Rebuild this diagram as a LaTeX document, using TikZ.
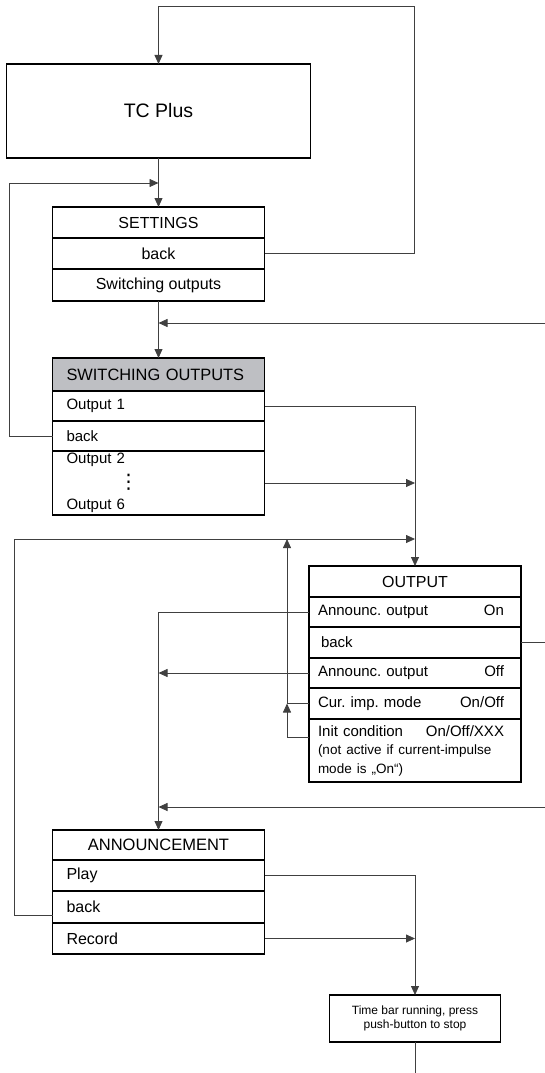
\documentclass[tikz,border=0pt]{standalone}
\usepackage{fontspec}
\setmainfont{Liberation Sans}
\newfontfamily\symfont{DejaVu Sans}
\usetikzlibrary{arrows.meta,positioning}

\frenchspacing
\definecolor{titlegray}{RGB}{190,191,195}
\newcommand{\lr}[2]{\makebox[186pt]{#1\hfill #2}}
\newcommand{\vdotsbar}{\raisebox{-2pt}{\smash{\symfont\fontsize{20}{20}\selectfont ⋮}}}

\begin{document}
\begin{tikzpicture}[x=1pt, y=-1pt,
  menu/.style={rectangle, draw, line width=1.3pt, minimum width=212pt, minimum height=31pt, inner sep=0pt, outer sep=0pt, align=center, font=\fontsize{16}{19}\selectfont},
  menuleft/.style={menu, text width=184pt, align=left, font=\fontsize{15}{18}\selectfont},
  outrow/.style={menu, text width=194pt, align=left, font=\fontsize{15}{18.5}\selectfont},
  link/.style={draw=black!75, line width=0.8pt},
  arr/.style={link, -{Triangle[length=9pt, width=8pt]}},
]
  \useasboundingbox (0,0) rectangle (545,1073);

  \node[menu, minimum width=304pt, minimum height=94pt, font=\fontsize{19.5}{23}\selectfont] (tc) at (158.5,111) {TC Plus};

  \node[menu] (set1) at (158.5,222.5) {SETTINGS};
  \node[menu, below=0pt of set1] (set2) {back};
  \node[menu, minimum height=32pt, below=0pt of set2] (set3) {Switching outputs};

  \node[menuleft, fill=titlegray, minimum height=33pt, font=\fontsize{16.4}{19}\selectfont] (sw1) at (158.5,374.5) {SWITCHING OUTPUTS};
  \node[menuleft, minimum height=30pt, below=0pt of sw1] (sw2) {Output 1};
  \node[menuleft, minimum height=30pt, below=0pt of sw2] (sw3) {back};
  \node[menuleft, minimum height=64pt, font=\fontsize{15}{23}\selectfont, below=0pt of sw3] (sw4) {Output 2\\\hspace*{52pt}\vdotsbar\\Output 6};

  \node[menu] (out1) at (415,581.5) {OUTPUT};
  \node[outrow, minimum height=30pt, below=0pt of out1] (out2) {\lr{Announc. output}{On}};
  \node[outrow, below=0pt of out2] (out3) {\hspace*{3pt}back};
  \node[outrow, minimum height=30pt, below=0pt of out3] (out4) {\lr{Announc. output}{Off}};
  \node[outrow, below=0pt of out4] (out5) {\lr{Cur. imp. mode}{On/Off}};
  \node[outrow, minimum height=63pt, below=0pt of out5] (out6) {\lr{Init condition}{On/Off/XXX}\\{\fontsize{13.5}{18.5}\selectfont (not active if current-impulse\\mode is „On“)}};

  \node[menu, minimum height=30pt, font=\fontsize{16.5}{19}\selectfont] (ann1) at (158.5,845) {ANNOUNCEMENT};
  \node[menuleft, font=\fontsize{16}{19}\selectfont, below=0pt of ann1] (ann2) {Play};
  \node[menuleft, minimum height=32pt, font=\fontsize{16}{19}\selectfont, below=0pt of ann2] (ann3) {back};
  \node[menuleft, font=\fontsize{16}{19}\selectfont, below=0pt of ann3] (ann4) {Record};

  \node[menu, minimum width=171pt, minimum height=47pt, font=\fontsize{12}{14.5}\selectfont] (timebar) at (415,1018.5) {Time bar running, press\\push-button to stop};

  \coordinate (loopT) at (414,6);
  \coordinate (loopL) at (9,183);
  \coordinate (loopB) at (14,539);
  \coordinate (curUp) at (287,539);
  \coordinate (inSet) at (545,323);
  \coordinate (inAnn) at (545,807);
  \coordinate (outBack) at (545,642);
  \coordinate (tbEnd) at (415,1073);

  \draw[arr] (set2.east) -| (loopT) -| (tc.north);
  \draw[arr] (tc) -- (set1);
  \draw[arr] (sw3.west) -| (loopL) -- (loopL -| set1.north);
  \draw[arr] (set3) -- (sw1);
  \draw[arr] (inSet) -- (inSet -| sw1.north);
  \draw[arr] (sw2.east) -| (out1.north);
  \draw[arr] (sw4.east) -- (sw4.east -| out1.north);
  \draw[arr] ([yshift=-8pt]ann3.west) -| (loopB) -- (loopB -| out1.north);
  \draw[arr] (out5.west) -| (curUp);
  \draw[arr] ([yshift=13.5pt]out6.west) -| (out5.west -| curUp);
  \draw[arr] (out2.west) -| (ann1.north);
  \draw[arr] (out4.west) -- (out4.west -| ann1.north);
  \draw[link] (out3.east) -- (out3.east -| outBack);
  \draw[arr] (inAnn) -- (inAnn -| ann1.north);
  \draw[arr] (ann2.east) -| (timebar.north);
  \draw[arr] (ann4.east) -- (ann4.east -| timebar.north);
  \draw[link] (timebar) -- (tbEnd);
\end{tikzpicture}
\end{document}
